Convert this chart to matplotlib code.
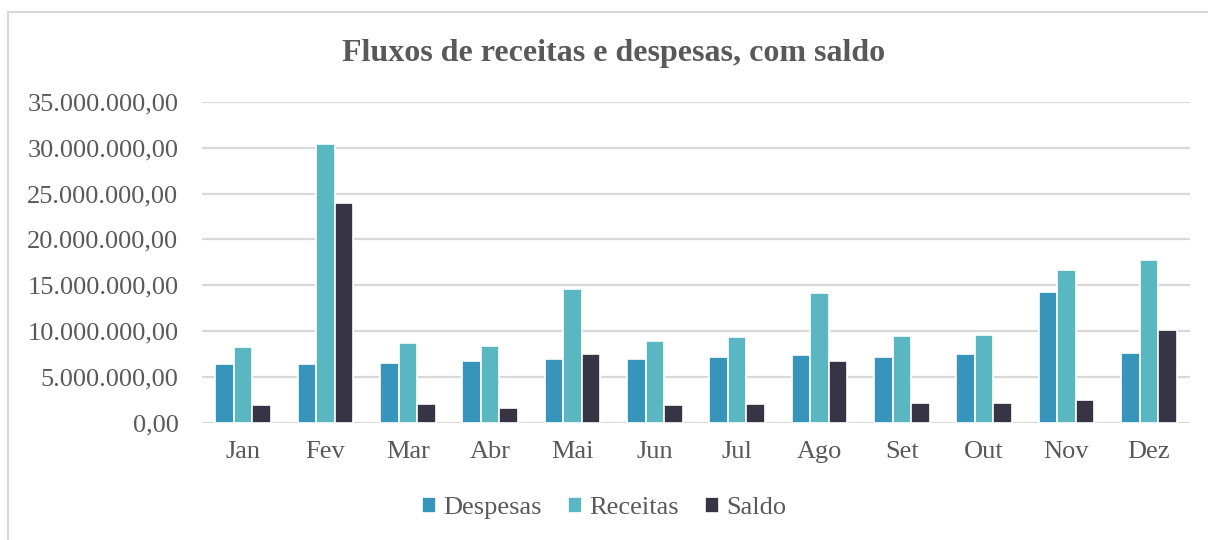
import numpy as np
import matplotlib.pyplot as plt
from matplotlib.lines import Line2D
from matplotlib.ticker import FuncFormatter

plt.rcParams['font.family'] = ['Liberation Serif', 'DejaVu Serif']

# monthly values (R$)
meses = ['Jan', 'Fev', 'Mar', 'Abr', 'Mai', 'Jun', 'Jul', 'Ago', 'Set', 'Out', 'Nov', 'Dez']
despesas = [6.38e6, 6.38e6, 6.53e6, 6.71e6, 6.93e6, 6.93e6, 7.22e6, 7.37e6, 7.22e6, 7.51e6, 14.26e6, 7.65e6]
receitas = [8.24e6, 30.4e6, 8.68e6, 8.35e6, 14.54e6, 8.90e6, 9.34e6, 14.15e6, 9.48e6, 9.62e6, 16.66e6, 17.75e6]
saldo = [1.90e6, 24.0e6, 2.04e6, 1.64e6, 7.51e6, 1.90e6, 2.04e6, 6.71e6, 2.19e6, 2.19e6, 2.45e6, 10.17e6]

cor_desp = '#3794BB'
cor_rec = '#5AB6C1'
cor_saldo = '#373545'
cinza = '#595959'

fig = plt.figure(figsize=(12.08, 5.4), dpi=100)
ax = fig.add_axes([202 / 1208, 1 - 422.7 / 540, (1190 - 202) / 1208, (422.7 - 102) / 540])

x = np.arange(len(meses))
w = 0.225
ax.bar(x - w, despesas, w, color=cor_desp, edgecolor='white', linewidth=1.2, label='Despesas', zorder=3)
ax.bar(x, receitas, w, color=cor_rec, edgecolor='white', linewidth=1.2, label='Receitas', zorder=3)
ax.bar(x + w, saldo, w, color=cor_saldo, edgecolor='white', linewidth=1.2, label='Saldo', zorder=3)

ax.set_xlim(-0.5, len(meses) - 0.5)
ax.set_ylim(0, 35e6)
ax.set_yticks(np.arange(0, 35e6 + 1, 5e6))


def fmt(v, pos):
    s = f'{v:,.2f}'
    return s.replace(',', 'X').replace('.', ',').replace('X', '.')


ax.yaxis.set_major_formatter(FuncFormatter(fmt))
ax.set_xticks(x)
ax.set_xticklabels(meses)
ax.tick_params(axis='both', length=0, labelsize=19, labelcolor=cinza)
ax.tick_params(axis='y', pad=17)
ax.tick_params(axis='x', pad=13)
ax.grid(axis='y', color='#D9D9D9', linewidth=1.6, zorder=0)
for s in ax.spines.values():
    s.set_visible(False)

fig.text(614 / 1208, 1 - 53 / 540, 'Fluxos de receitas e despesas, com saldo',
         ha='center', va='center', fontsize=23, fontweight='bold', color=cinza,
         family='Liberation Serif')

ax.legend(loc='center', bbox_to_anchor=(0.5, 1 - 508 / 540), bbox_transform=fig.transFigure,
          ncol=3, frameon=False, prop={'family': 'Liberation Serif', 'size': 19},
          labelcolor=cinza, handlelength=0.55, handleheight=0.55, handletextpad=0.25,
          columnspacing=1.0)

# outer chart border (left and top only visible)
fig.add_artist(Line2D([8 / 1208, 8 / 1208], [0, 1 - 12 / 540], transform=fig.transFigure, color='#D9D9D9', linewidth=1.5))
fig.add_artist(Line2D([8 / 1208, 1], [1 - 12 / 540, 1 - 12 / 540], transform=fig.transFigure, color='#D9D9D9', linewidth=1.5))

fig.savefig('out.png', dpi=100)
